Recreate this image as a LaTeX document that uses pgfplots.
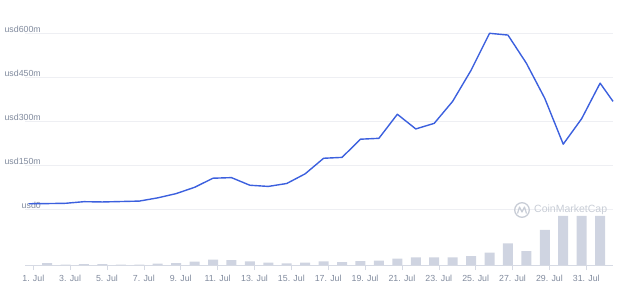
\documentclass[border=0pt]{standalone}
\usepackage{fontspec}
\setmainfont{Liberation Sans}
\usepackage{pgfplots}
\pgfplotsset{compat=1.18}
\definecolor{cmcblue}{RGB}{60,96,222}
\definecolor{labgray}{RGB}{128,138,157}
\definecolor{gridgray}{RGB}{238,239,243}
\definecolor{bargray}{RGB}{207,212,225}
\definecolor{basegray}{RGB}{214,218,228}
\definecolor{wmgray}{RGB}{200,205,214}
\begin{document}
\begin{tikzpicture}[x=1pt,y=1pt]
\useasboundingbox (0,0) rectangle (624,287);
% price axis (grid + labels)
\begin{axis}[
  scale only axis, width=588pt, height=176pt,
  at={(25pt,77.7pt)}, anchor=south west,
  xmin=0.55, xmax=32.45, ymin=0, ymax=600,
  axis line style={draw=none},
  ymajorgrids, grid style={gridgray, line width=0.8pt},
  xtick=\empty,
  ytick={0,150,300,450,600},
  yticklabels={usd0,usd150m,usd300m,usd450m,usd600m},
  major tick length=0pt, ytick style={draw=none},
  yticklabel style={text=labgray, font=\fontsize{8.8}{10}\selectfont, inner sep=0pt, anchor=east, xshift=16pt, yshift=4.3pt},
  clip=false,
]
\end{axis}
% watermark
\draw[wmgray, line width=1.3pt] (522,77) circle (7.3);
\draw[wmgray, line width=1.2pt, line join=round] (517.5,73.5) -- (519.5,80) -- (522,75) -- (524.5,80) -- (526.5,73.5);
\node[anchor=west, inner sep=0pt, text=wmgray, font=\fontsize{10.5}{12}\selectfont] at (534,77) {CoinMarketCap};
% volume bars
\begin{axis}[
  scale only axis, width=588pt, height=49pt,
  at={(25pt,22pt)}, anchor=south west,
  xmin=0.55, xmax=32.45, ymin=0, ymax=49,
  axis y line=none, axis x line*=bottom,
  x axis line style={basegray, line width=0.8pt, -},
  xtick={1,3,...,31},
  xticklabels={1. Jul,3. Jul,5. Jul,7. Jul,9. Jul,11. Jul,13. Jul,15. Jul,17. Jul,19. Jul,21. Jul,23. Jul,25. Jul,27. Jul,29. Jul,31. Jul},
  tick align=outside, major tick length=5pt,
  xtick style={basegray, line width=0.6pt},
  xticklabel style={text=labgray, font=\fontsize{8.8}{10}\selectfont, inner sep=0pt, anchor=north, yshift=-4.5pt},
  clip=false,
]
\addplot[ybar, bar width=10pt, fill=bargray, draw=none] coordinates {
(1.75,2) (2.75,0.5) (3.75,1) (4.75,1) (5.75,0.5) (6.75,0.5) (7.75,1.3) (8.75,2)
(9.75,3.3) (10.75,5.5) (11.75,5) (12.75,3.7) (13.75,2.3) (14.75,1.7) (15.75,2.3)
(16.75,3.7) (17.75,3) (18.75,4) (19.75,4.3) (20.75,6.3) (21.75,7.7) (22.75,7.7)
(23.75,7.7) (24.75,9) (25.75,12.3) (26.75,21.7) (27.75,14) (28.75,35) (29.75,49)
(30.75,49) (31.75,49)
};
\end{axis}
% price line
\begin{axis}[
  scale only axis, width=588pt, height=176pt,
  at={(25pt,77.7pt)}, anchor=south west,
  xmin=0.55, xmax=32.45, ymin=0, ymax=600,
  axis lines=none, clip=false,
]
\addplot[cmcblue, line width=1.4pt, line join=round] coordinates {
(0.75,19) (1.75,19.5) (2.75,20.5) (3.75,26) (4.75,25) (5.75,26.5) (6.75,28)
(7.75,39) (8.75,53.5) (9.75,75) (10.75,106) (11.75,108) (12.75,82) (13.75,78)
(14.75,88) (15.75,121) (16.75,174) (17.75,177) (18.75,239) (19.75,242)
(20.75,324) (21.75,274) (22.75,293) (23.75,368) (24.75,474) (25.75,600)
(26.75,594) (27.75,498) (28.75,378) (29.75,222) (30.75,309) (31.75,430)
(32.45,368)
};
\end{axis}
\end{tikzpicture}
\end{document}
